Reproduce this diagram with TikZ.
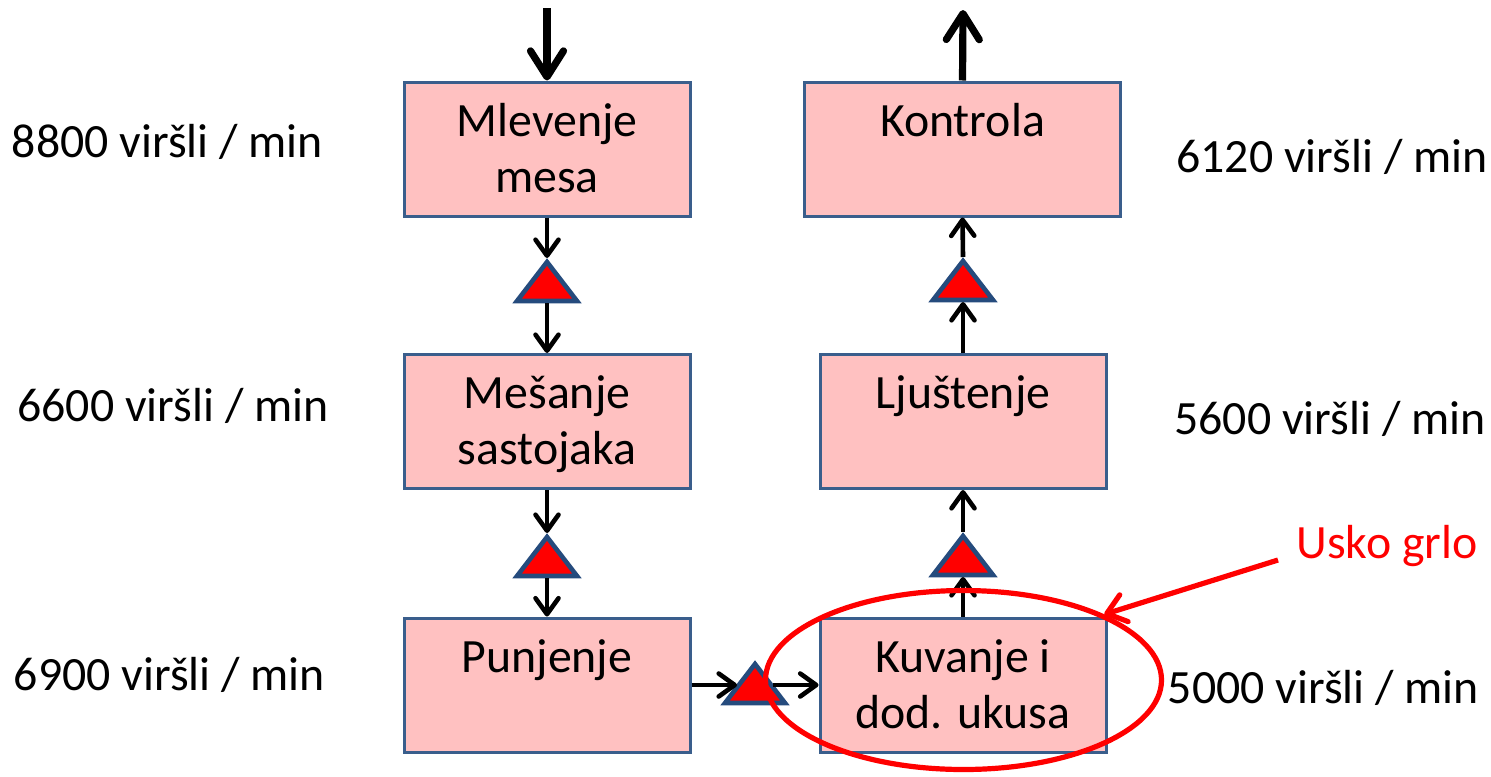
\documentclass[tikz,border=0pt]{standalone}
\usepackage{fontspec}
\setmainfont{Carlito}
\usetikzlibrary{arrows.meta,shapes.geometric}

\definecolor{boxfill}{HTML}{FFC1C1}
\definecolor{boxline}{HTML}{3A5E8C}
\definecolor{triline}{HTML}{254B7D}
\definecolor{alarm}{HTML}{FF0000}

% top-aligned text block inside a process box: width, lines
\newcommand{\steptext}[2]{\parbox[c][67pt][t]{#1}{\centering\vspace*{7.5pt}\strut #2}}

\tikzset{
  basefont/.style={font=\fontsize{23.9}{28}\selectfont},
  stepbox/.style={basefont, draw=boxline, line width=1.5pt, fill=boxfill, inner sep=0pt},
  rate/.style={basefont, anchor=base, inner sep=0pt},
  flow/.style={line width=2.3pt, -{Straight Barb[round,length=8pt,width=11.5pt]}},
  bigflow/.style={line width=3.6pt, -{Straight Barb[round,length=13pt,width=16.5pt]}},
  callout/.style={draw=alarm, line width=2.6pt, -{Straight Barb[round,length=9pt,width=14pt]}},
  buffer/.pic={
    \draw[fill=alarm, draw=triline, line width=2.3pt, line join=miter]
      (0,-20) -- (30,19) -- (-30,19) -- cycle;
    \coordinate (-top) at (0,-24);
    \coordinate (-bot) at (0,21);
    \coordinate (-l) at (-18,1);
    \coordinate (-r) at (18,1);
  }
}

\begin{document}
\begin{tikzpicture}[x=0.5pt, y=-0.5pt]
\useasboundingbox (0,0) rectangle (1491,776);

% process steps
\node[stepbox] (mlev) at (547,149)   {\steptext{143pt}{Mlevenje\\mesa}};
\node[stepbox] (mes)  at (547,421.5) {\steptext{143pt}{Mešanje\\sastojaka}};
\node[stepbox] (pun)  at (547,685)   {\steptext{143pt}{Punjenje}};
\node[stepbox] (kon)  at (962.5,149) {\steptext{158pt}{Kontrola}};
\node[stepbox] (ljus) at (963,421.5) {\steptext{143pt}{Ljuštenje}};
\node[stepbox] (kuv)  at (963,685)   {\steptext{143pt}{Kuvanje i\\dod. ukusa}};

% buffers between steps
\pic (b1) at (547,282) {buffer};
\pic (b2) at (547,557) {buffer};
\pic (b3) at (755,684) {buffer};
\pic (b4) at (963,556) {buffer};
\pic (b5) at (963,281) {buffer};

% input and output
\coordinate (in)  at (547,8);
\coordinate (out) at (963,10);
\draw[bigflow] (in) -- (mlev.north);
\draw[bigflow] (kon.north) -- (out);

% material flow
\draw[flow] (mlev.south) -- (b1-top);
\draw[flow] (b1-bot) -- (mes.north);
\draw[flow] (mes.south) -- (b2-top);
\draw[flow] (b2-bot) -- (pun.north);
\draw[flow] (pun.east) -- (b3-l);
\draw[flow] (b3-r) -- (kuv.west);
\draw[flow] (kuv.north) -- (b4-bot);
\draw[flow] (b4-top) -- (ljus.south);
\draw[flow] (ljus.north) -- (b5-bot);
\draw[flow] (b5-top) -- (kon.south);

% throughput of each step
\node[rate] (r1) at (167.5,157) {8800 viršli / min};
\node[rate] (r2) at (173,421)   {6600 viršli / min};
\node[rate] (r3) at (169.5,690) {6900 viršli / min};
\node[rate] (r4) at (1332,172)  {6120 viršli / min};
\node[rate] (r5) at (1330,434)  {5600 viršli / min};
\node[rate] (r6) at (1323.5,703){5000 viršli / min};

% bottleneck highlight
\node[ellipse, draw=alarm, line width=2.6pt, inner sep=0pt,
      minimum width=198pt, minimum height=89.5pt] (grlo) at (963.5,680) {};
\node[rate, text=alarm] (usko) at (1387,558) {Usko grlo};
\coordinate (uskostart) at (1278,560);
\draw[callout] (uskostart) -- (grlo.25);
\end{tikzpicture}
\end{document}
